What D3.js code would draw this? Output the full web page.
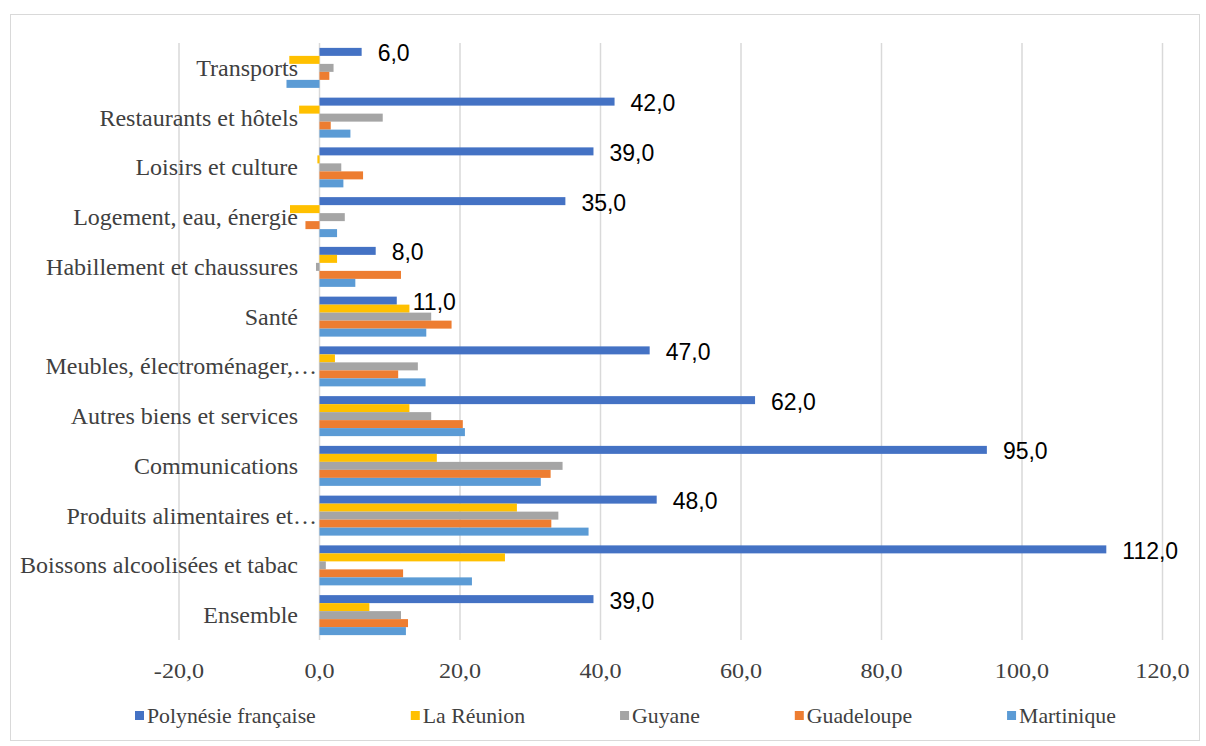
<!DOCTYPE html>
<html>
<head>
<meta charset="utf-8">
<script src="https://cdn.jsdelivr.net/npm/d3@7"></script>
<style>
  html, body { margin: 0; padding: 0; background: #fff; }
  svg { display: block; }
</style>
</head>
<body>
<svg id="chart" width="1206" height="746"></svg>
<script>
// Categories, top to bottom
const categories = [
  "Transports",
  "Restaurants et hôtels",
  "Loisirs et culture",
  "Logement, eau, énergie",
  "Habillement et chaussures",
  "Santé",
  "Meubles, électroménager,…",
  "Autres biens et services",
  "Communications",
  "Produits alimentaires et…",
  "Boissons alcoolisées et tabac",
  "Ensemble"
];

const seriesNames = ["Polynésie française", "La Réunion", "Guyane", "Guadeloupe", "Martinique"];
const seriesColors = ["#4472C4", "#FFC000", "#A5A5A5", "#ED7D31", "#5B9BD5"];

// Values per series, in category order
const polynesie  = [6.0, 42.0, 39.0, 35.0, 8.0, 11.0, 47.0, 62.0, 95.0, 48.0, 112.0, 39.0];
const reunion    = [-4.3, -2.9, -0.3, -4.2, 2.5, 12.8, 2.2, 12.8, 16.7, 28.1, 26.4, 7.1];
const guyane     = [2.0, 9.0, 3.1, 3.6, -0.5, 15.9, 14.0, 15.9, 34.6, 34.0, 0.9, 11.6];
const guadeloupe = [1.4, 1.6, 6.2, -2.0, 11.6, 18.8, 11.2, 20.4, 32.9, 33.0, 11.9, 12.6];
const martinique = [-4.7, 4.4, 3.4, 2.5, 5.1, 15.2, 15.1, 20.7, 31.5, 38.3, 21.7, 12.3];

const seriesValues = [polynesie, reunion, guyane, guadeloupe, martinique];

// Axis ticks
const tickValues = [-20, 0, 20, 40, 60, 80, 100, 120];

const fmt = v => d3.format(".1f")(v).replace(".", ",").replace("−", "-");
const SERIF = "'Liberation Serif', 'Times New Roman', serif";

const svg = d3.select("#chart");

// Chart frame
svg.append("rect")
  .attr("x", 10.5).attr("y", 14.5)
  .attr("width", 1189).attr("height", 726)
  .attr("fill", "#fff")
  .attr("stroke", "#d9d9d9")
  .attr("stroke-width", 1);

const x = d3.scaleLinear().domain([-20, 120]).range([179, 1162.5]);
const y = d3.scaleBand().domain(categories).range([43, 640]).padding(0);
const ySeries = d3.scaleBand().domain(seriesNames).range([0, y.bandwidth()])
  .paddingInner(0).paddingOuter(0.61);

// Vertical gridlines
svg.append("g")
  .selectAll("line")
  .data(tickValues)
  .join("line")
  .attr("x1", d => x(d)).attr("x2", d => x(d))
  .attr("y1", 43).attr("y2", 640)
  .attr("stroke", "#d9d9d9")
  .attr("stroke-width", 1.5);

// Tick labels (slightly widened serif face)
svg.append("g")
  .selectAll("text")
  .data(tickValues)
  .join("text")
  .attr("transform", d => `translate(${x(d)},678) scale(1.15,1)`)
  .attr("text-anchor", "middle")
  .attr("font-family", SERIF)
  .attr("font-size", 21)
  .attr("fill", "#404040")
  .text(d => fmt(d));

// Bars
const rows = [];
categories.forEach((c, i) => {
  seriesNames.forEach((s, j) => {
    rows.push({ cat: c, series: s, value: seriesValues[j][i], color: seriesColors[j] });
  });
});

svg.append("g")
  .selectAll("rect")
  .data(rows)
  .join("rect")
  .attr("x", d => x(Math.min(0, d.value)))
  .attr("width", d => Math.abs(x(d.value) - x(0)))
  .attr("y", d => y(d.cat) + ySeries(d.series))
  .attr("height", ySeries.bandwidth())
  .attr("fill", d => d.color);

// Value labels for Polynésie française
svg.append("g")
  .selectAll("text")
  .data(categories)
  .join("text")
  .attr("x", (c, i) => x(polynesie[i]) + 16)
  .attr("y", c => y(c) + ySeries(seriesNames[0]) + ySeries.bandwidth() / 2 + 1.5)
  .attr("dominant-baseline", "central")
  .attr("font-family", "'Liberation Sans', Arial, sans-serif")
  .attr("font-size", 23)
  .attr("fill", "#000")
  .text((c, i) => fmt(polynesie[i]));

// Category labels
svg.append("g")
  .selectAll("text")
  .data(categories)
  .join("text")
  .attr("x", c => c.endsWith("…") ? 317 : 298)
  .attr("y", c => y(c) + y.bandwidth() / 2 + 8)
  .attr("text-anchor", "end")
  .attr("font-family", SERIF)
  .attr("font-size", 24)
  .attr("fill", "#404040")
  .text(c => c);

// Legend
const legendStretch = 1.09;
const legend = svg.append("g");
let lx = 135;
seriesNames.forEach((s, j) => {
  const item = legend.append("g").attr("transform", `translate(${lx},0)`);
  item.append("rect")
    .attr("x", 0).attr("y", 711)
    .attr("width", 9).attr("height", 9)
    .attr("fill", seriesColors[j]);
  const t = item.append("text")
    .attr("transform", `translate(12,722.5) scale(${legendStretch},1)`)
    .attr("font-family", SERIF)
    .attr("font-size", 20)
    .attr("fill", "#404040")
    .text(s);
  lx += 12 + t.node().getComputedTextLength() * legendStretch + 95;
});
</script>
</body>
</html>
